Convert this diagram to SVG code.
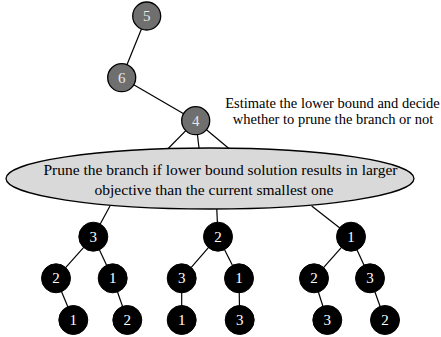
<svg xmlns="http://www.w3.org/2000/svg" width="441" height="337" viewBox="0 0 441 337" font-family="'Liberation Serif', 'Times New Roman', 'DejaVu Serif', serif">
  <style>
    .edge { stroke: #000; stroke-width: 1.2; fill: none; }
    .gray circle { fill: #6f6f6f; stroke: #000; stroke-width: 1.3; }
    .gray text { fill: #e8e8e8; }
    .dark circle { fill: #000; stroke: #000; stroke-width: 1; }
    .dark text { fill: #fff; }
    .num { font-size: 15px; text-anchor: middle; dominant-baseline: central; }
    .note { font-size: 14.5px; fill: #000; text-anchor: middle; }
    .box ellipse { fill: #d9d9d9; stroke: #000; stroke-width: 1.3; }
    .box text { font-size: 15.5px; fill: #000; text-anchor: middle; }
  </style>

  <!-- connectors -->
  <g id="connectors">
    <line class="edge" x1="146.7" y1="16" x2="121.7" y2="77.7"/>
    <line class="edge" x1="121.7" y1="77.7" x2="195.7" y2="120.7"/>
    <line class="edge" x1="195.7" y1="120.7" x2="166.7" y2="150"/>
    <line class="edge" x1="195.7" y1="120.7" x2="199.3" y2="150"/>
    <line class="edge" x1="195.7" y1="120.7" x2="230.7" y2="150"/>
    <line class="edge" x1="110" y1="206" x2="93.3" y2="236.7"/>
    <line class="edge" x1="216.7" y1="207" x2="218" y2="236.7"/>
    <line class="edge" x1="311.7" y1="206" x2="351" y2="236.7"/>
    <line class="edge" x1="93.3" y1="236.7" x2="56" y2="278.3"/>
    <line class="edge" x1="93.3" y1="236.7" x2="112.7" y2="278.3"/>
    <line class="edge" x1="56" y1="278.3" x2="73.3" y2="320"/>
    <line class="edge" x1="112.7" y1="278.3" x2="127.3" y2="320"/>
    <line class="edge" x1="218" y1="236.7" x2="181.7" y2="278.3"/>
    <line class="edge" x1="218" y1="236.7" x2="239" y2="278.3"/>
    <line class="edge" x1="181.7" y1="278.3" x2="181.7" y2="320"/>
    <line class="edge" x1="239" y1="278.3" x2="239.7" y2="320"/>
    <line class="edge" x1="351" y1="236.7" x2="314" y2="278.3"/>
    <line class="edge" x1="351" y1="236.7" x2="370" y2="278.3"/>
    <line class="edge" x1="314" y1="278.3" x2="327.3" y2="320"/>
    <line class="edge" x1="370" y1="278.3" x2="385" y2="320"/>
  </g>

  <!-- upper path of the search -->
  <g id="n5" class="gray"><circle cx="146.7" cy="16" r="14"/><text class="num" x="146.7" y="16">5</text></g>
  <g id="n6" class="gray"><circle cx="121.7" cy="77.7" r="14"/><text class="num" x="121.7" y="77.7">6</text></g>
  <g id="n4" class="gray"><circle cx="195.7" cy="120.7" r="14"/><text class="num" x="195.7" y="120.7">4</text></g>

  <g id="estimate-note">
    <text class="note" x="332.5" y="108">Estimate the lower bound and decide</text>
    <text class="note" x="333" y="124">whether to prune the branch or not</text>
  </g>

  <g id="prune-rule" class="box">
    <ellipse cx="210" cy="178.5" rx="204" ry="30.5"/>
    <text x="220.5" y="175">Prune the branch if lower bound solution results in larger</text>
    <text x="214" y="195">objective than the current smallest one</text>
  </g>

  <!-- left subtree -->
  <g id="a3" class="dark"><circle cx="93.3" cy="236.7" r="14.5"/><text class="num" x="93.3" y="236.7">3</text></g>
  <g id="a2" class="dark"><circle cx="56" cy="278.3" r="14.5"/><text class="num" x="56" y="278.3">2</text></g>
  <g id="a1" class="dark"><circle cx="112.7" cy="278.3" r="14.5"/><text class="num" x="112.7" y="278.3">1</text></g>
  <g id="a21" class="dark"><circle cx="73.3" cy="320" r="14.5"/><text class="num" x="73.3" y="320">1</text></g>
  <g id="a12" class="dark"><circle cx="127.3" cy="320" r="14.5"/><text class="num" x="127.3" y="320">2</text></g>

  <!-- middle subtree -->
  <g id="b2" class="dark"><circle cx="218" cy="236.7" r="14.5"/><text class="num" x="218" y="236.7">2</text></g>
  <g id="b3" class="dark"><circle cx="181.7" cy="278.3" r="14.5"/><text class="num" x="181.7" y="278.3">3</text></g>
  <g id="b1" class="dark"><circle cx="239" cy="278.3" r="14.5"/><text class="num" x="239" y="278.3">1</text></g>
  <g id="b31" class="dark"><circle cx="181.7" cy="320" r="14.5"/><text class="num" x="181.7" y="320">1</text></g>
  <g id="b13" class="dark"><circle cx="239.7" cy="320" r="14.5"/><text class="num" x="239.7" y="320">3</text></g>

  <!-- right subtree -->
  <g id="c1" class="dark"><circle cx="351" cy="236.7" r="14.5"/><text class="num" x="351" y="236.7">1</text></g>
  <g id="c2" class="dark"><circle cx="314" cy="278.3" r="14.5"/><text class="num" x="314" y="278.3">2</text></g>
  <g id="c3" class="dark"><circle cx="370" cy="278.3" r="14.5"/><text class="num" x="370" y="278.3">3</text></g>
  <g id="c23" class="dark"><circle cx="327.3" cy="320" r="14.5"/><text class="num" x="327.3" y="320">3</text></g>
  <g id="c32" class="dark"><circle cx="385" cy="320" r="14.5"/><text class="num" x="385" y="320">2</text></g>
</svg>
